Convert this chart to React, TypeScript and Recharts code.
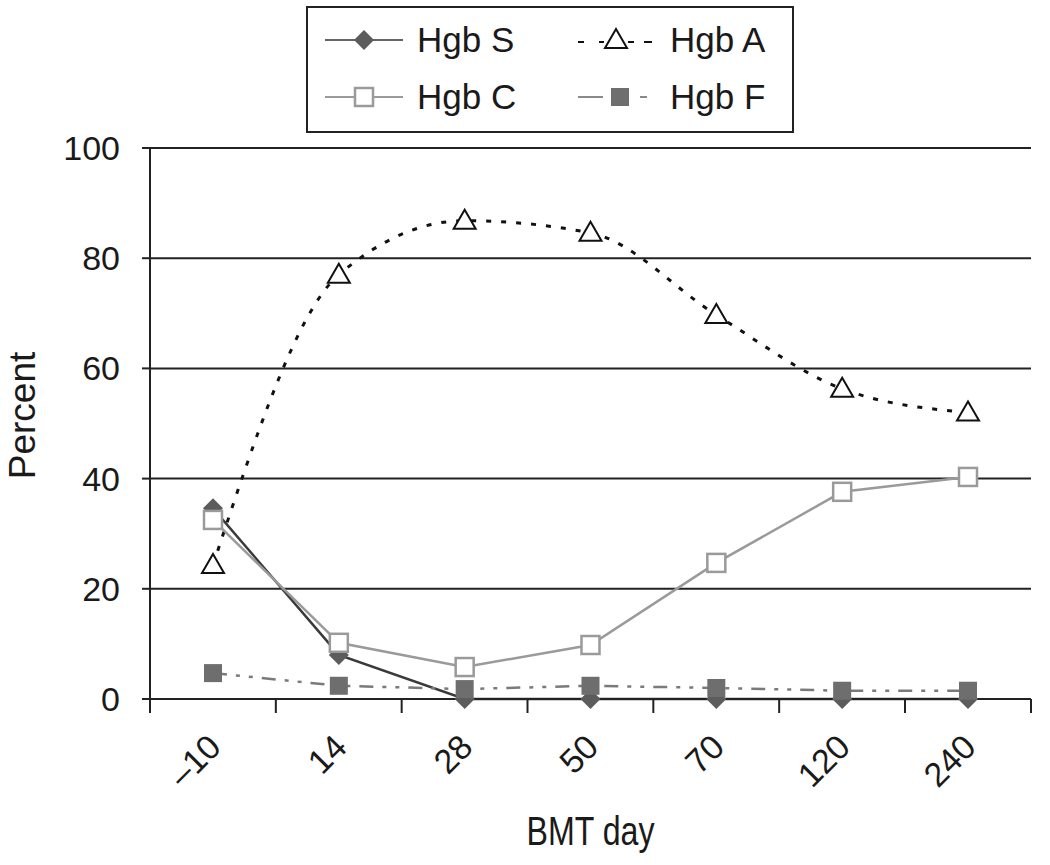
import { LineChart, Line, XAxis, YAxis, CartesianGrid } from 'recharts'

const days = ['\u201310', '14', '28', '50', '70', '120', '240']
const hgbS = [34.6, 8.0, 0, 0, 0, 0, 0]
const hgbA = [24.3, 77.0, 86.8, 84.6, 69.7, 56.3, 52.0]
const hgbC = [32.5, 10.2, 5.8, 9.8, 24.7, 37.6, 40.3]
const hgbF = [4.7, 2.4, 1.8, 2.4, 2.0, 1.5, 1.5]
const yTicks = [0, 20, 40, 60, 80, 100]

const data = days.map((d, i) => ({ day: d, s: hgbS[i], a: hgbA[i], c: hgbC[i], f: hgbF[i] }))

const FONT = "'Liberation Sans', Arial, Helvetica, sans-serif"
const HALF = 63

const Diamond = ({ cx, cy, index }: any) => (
  <path key={`s${index}`} d={`M${cx},${cy - 10}L${cx + 10},${cy}L${cx},${cy + 10}L${cx - 10},${cy}Z`} fill="#5c5c5c" />
)
const Triangle = ({ cx, cy, index }: any) => (
  <path key={`a${index}`} d={`M${cx},${cy - 11}L${cx + 11},${cy + 8}L${cx - 11},${cy + 8}Z`} fill="#fff" stroke="#111" strokeWidth={2} />
)
const OpenSquare = ({ cx, cy, index }: any) => (
  <rect key={`c${index}`} x={cx - 9} y={cy - 9} width={18} height={18} fill="#fff" stroke="#9a9a9a" strokeWidth={2.5} />
)
const FilledSquare = ({ cx, cy, index }: any) => (
  <rect key={`f${index}`} x={cx - 9} y={cy - 9} width={18} height={18} fill="#6e6e6e" />
)

const XTick = ({ x, y, payload, index }: any) => (
  <g>
    <line x1={x - HALF} x2={x - HALF} y1={y} y2={y + 14} stroke="#222" strokeWidth={2} />
    {index === days.length - 1 && <line x1={x + HALF} x2={x + HALF} y1={y} y2={y + 14} stroke="#222" strokeWidth={2} />}
    <text
      x={x + 10} y={y + 50} textAnchor="end" fontSize={34} fontFamily={FONT} fill="#1a1a1a"
      transform={`rotate(-45, ${x + 10}, ${y + 50})`}
    >
      {payload.value}
    </text>
  </g>
)

// condensed axis title, like the original's narrow face
const BmtLabel = ({ viewBox }: any) => {
  const cx = viewBox.x + viewBox.width / 2
  return (
    <text x={cx} y={viewBox.y + 146} textAnchor="middle" fontSize={40} fontFamily={FONT} fill="#1a1a1a"
      textLength={128} lengthAdjust="spacingAndGlyphs">
      BMT day
    </text>
  )
}

function LegendBox() {
  const txt = { fontSize: 35, fontFamily: FONT, fill: '#1a1a1a' }
  return (
    <div style={{ position: 'absolute', left: 306, top: 6, width: 484, height: 123, border: '2px solid #222', background: '#fff' }}>
      <svg width={484} height={123}>
        <g transform="translate(-308,-8)">
          <line x1={325} x2={403} y1={40} y2={40} stroke="#666" strokeWidth={2} />
          <Diamond cx={364} cy={40} index={0} />
          <text x={417} y={52} {...txt}>Hgb S</text>

          <line x1={578} x2={584} y1={42} y2={42} stroke="#111" strokeWidth={2} />
          <line x1={599} x2={604} y1={42} y2={42} stroke="#111" strokeWidth={2} />
          <line x1={628} x2={634} y1={42} y2={42} stroke="#111" strokeWidth={2} />
          <line x1={644} x2={652} y1={42} y2={42} stroke="#111" strokeWidth={2} />
          <Triangle cx={616} cy={40} index={0} />
          <text x={670} y={52} {...txt}>Hgb A</text>

          <line x1={325} x2={403} y1={97} y2={97} stroke="#9a9a9a" strokeWidth={2} />
          <OpenSquare cx={364} cy={97} index={0} />
          <text x={417} y={109} {...txt}>Hgb C</text>

          <line x1={578} x2={603} y1={97} y2={97} stroke="#8a8a8a" strokeWidth={2} />
          <line x1={640} x2={647} y1={97} y2={97} stroke="#8a8a8a" strokeWidth={2} />
          <FilledSquare cx={620} cy={97} index={0} />
          <text x={670} y={109} {...txt}>Hgb F</text>
        </g>
      </svg>
    </div>
  )
}

export default function App() {
  return (
    <div style={{ position: 'absolute', left: 0, top: 0, width: 1050, height: 865, background: '#fff' }}>
      <LineChart width={1050} height={865} data={data} margin={{ top: 148, right: 19, left: 0, bottom: 0 }}>
        <CartesianGrid vertical={false} stroke="#222" strokeWidth={2} />
        <XAxis
          dataKey="day" height={166} padding={{ left: HALF, right: HALF }}
          axisLine={{ stroke: '#222', strokeWidth: 2 }} tickLine={false} tickSize={0} tickMargin={0}
          tick={<XTick />} interval={0}
          label={{ content: BmtLabel }}
        />
        <YAxis
          domain={[0, 100]} ticks={yTicks} width={150} interval={0}
          axisLine={{ stroke: '#222', strokeWidth: 2 }} tickLine={{ stroke: '#222', strokeWidth: 2 }} tickSize={8} tickMargin={22}
          tick={{ fontSize: 34, fontFamily: FONT, fill: '#1a1a1a' }}
          label={{ value: 'Percent', angle: -90, position: 'insideLeft', offset: 22, dy: -8, style: { textAnchor: 'middle', fontSize: 37, fontFamily: FONT, fill: '#1a1a1a' } }}
        />
        <Line dataKey="s" type="linear" stroke="#3a3a3a" strokeWidth={2.5} dot={Diamond} activeDot={false} isAnimationActive={false} />
        <Line dataKey="a" type="monotone" stroke="#111" strokeWidth={3} strokeDasharray="5 10" dot={Triangle} activeDot={false} isAnimationActive={false} />
        <Line dataKey="c" type="linear" stroke="#9a9a9a" strokeWidth={2.5} dot={OpenSquare} activeDot={false} isAnimationActive={false} />
        <Line dataKey="f" type="linear" stroke="#7a7a7a" strokeWidth={2.5} strokeDasharray="14 9 4 9 4 9" dot={FilledSquare} activeDot={false} isAnimationActive={false} />
      </LineChart>
      <LegendBox />
    </div>
  )
}
